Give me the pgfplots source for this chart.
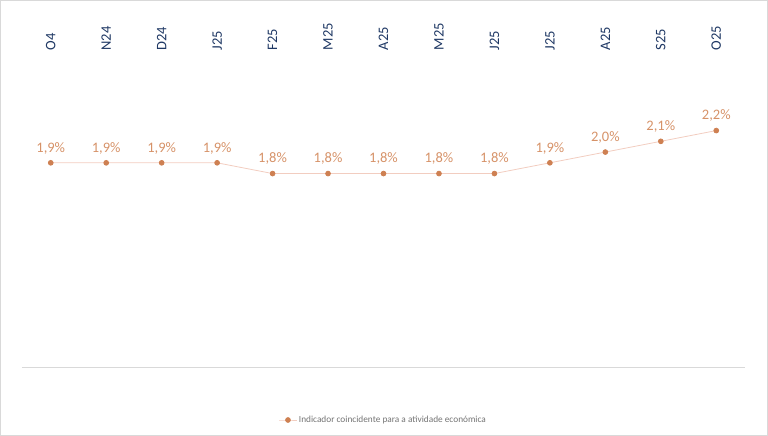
\documentclass[border=0pt]{standalone}
\usepackage{pgfplots}
\pgfplotsset{compat=1.18}
\usepackage{fontspec}
\setmainfont{Carlito}
\definecolor{lbl}{RGB}{214,146,104}
\definecolor{mk}{RGB}{206,128,82}
\definecolor{ln}{RGB}{242,205,192}
\definecolor{tk}{RGB}{31,56,100}
\definecolor{fr}{RGB}{217,217,217}
\begin{document}
\begin{tikzpicture}
\draw[fr,line width=0.8pt] (0.5pt,0.5pt) rectangle (767.5pt,435.5pt);
\begin{axis}[
at={(22pt,69pt)}, anchor=south west,
scale only axis,
width=723pt, height=318pt,
xmin=-0.52, xmax=12.52,
ymin=0, ymax=2.96,
axis line style={draw=none},
ytick=\empty,
xtick=data,
xticklabels={O4,N24,D24,J25,F25,M25,A25,M25,J25,J25,A25,S25,O25},
xticklabel pos=upper,
major tick length=0pt,
xticklabel style={yshift=-5pt, rotate=90, anchor=west, font=\fontsize{14.5}{14.5}\selectfont, text=tk},
nodes near coords={\pgfmathprintnumber[fixed,fixed zerofill,precision=1,use comma,assume math mode=true]{\pgfplotspointmeta}\%},
nodes near coords style={font=\fontsize{14.5}{14.5}\selectfont, text=lbl, anchor=south, yshift=5pt},
legend style={at={(axis description cs:0.5,0)}, anchor=center, yshift=-53pt, draw=none, font=\fontsize{9.3}{10}\selectfont, text=black!55, fill=none},
legend cell align=left,
clip=false,
]
\draw[fr, line width=0.8pt] (rel axis cs:0,0) -- (rel axis cs:1,0);
\addplot[ln, line width=0.8pt, mark=*, mark size=2.4pt, mark options={fill=mk, draw=mk}] coordinates {
(0,1.9) (1,1.9) (2,1.9) (3,1.9) (4,1.8) (5,1.8) (6,1.8) (7,1.8) (8,1.8) (9,1.9) (10,2.0) (11,2.1) (12,2.2)
};
\addlegendentry{Indicador coincidente para a atividade económica}
\end{axis}
\end{tikzpicture}
\end{document}
